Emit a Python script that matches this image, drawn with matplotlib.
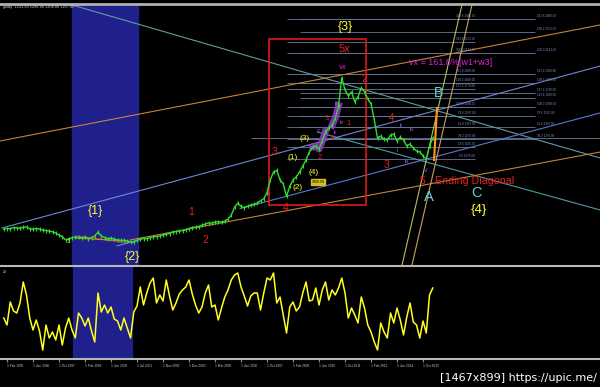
import numpy as np
import matplotlib
matplotlib.use("Agg")
import matplotlib.pyplot as plt
from matplotlib.patches import Rectangle

plt.rcParams['font.family'] = ['Liberation Sans', 'DejaVu Sans']

# bars counted from the "1 Feb 1995" label, one point every 2 bars
bar = np.arange(-2, 264, 2)

close = [370, 375, 372, 385, 382, 378, 388, 392, 372, 368,
         375, 370, 360, 355, 350, 342, 330, 310, 292, 262,
         265, 285, 290, 288, 280, 290, 275, 285, 300, 340,
         298, 285, 275, 278, 268, 262, 255, 258, 248, 240,
         238, 258, 265, 275, 272, 285, 290, 295, 300, 310,
         318, 325, 340, 345, 350, 355, 362, 375, 385, 390,
         395, 410, 420, 432, 430, 440, 445, 440, 450, 470,
         510, 590, 630, 600, 585, 600, 612, 620, 630, 655,
         675, 735, 865, 945, 960, 865, 825, 700, 800, 865,
         895, 945, 1005, 1065, 1145, 1195, 1205, 1175, 1255, 1355,
         1385, 1415, 1485, 1610, 1890, 1770, 1710, 1750, 1650, 1700,
         1790, 1750, 1680, 1630, 1470, 1285, 1305, 1275, 1265, 1315,
         1325, 1255, 1295, 1265, 1205, 1225, 1185, 1155, 1145, 1105,
         1075, 1205, 1285]

osc = [42, 35, 58, 49, 47, 57, 78, 65, 42, 30,
       40, 29, 10, 35, 22, 28, 20, 35, 15, 32,
       42, 30, 22, 47, 42, 34, 42, 29, 18, 67,
       48, 55, 47, 53, 41, 39, 30, 42, 32, 22,
       48, 54, 73, 55, 67, 77, 82, 57, 65, 59,
       80, 64, 50, 57, 66, 70, 73, 80, 66, 55,
       47, 53, 67, 75, 53, 55, 40, 52, 63, 70,
       80, 85, 87, 73, 64, 54, 64, 67, 67, 50,
       67, 82, 80, 87, 57, 63, 45, 27, 53, 58,
       49, 53, 67, 78, 59, 60, 72, 55, 70, 78,
       60, 70, 65, 72, 82, 67, 42, 52, 45, 37,
       63, 52, 35, 28, 18, 10, 37, 28, 22, 47,
       37, 52, 40, 25, 43, 57, 38, 35, 22, 39,
       27, 65, 72]

tick_bars = np.arange(0, 257, 16)
tick_labels = ['1 Feb 1995', '1 Jun 1996', '1 Oct 1997', '1 Feb 1999', '1 Jun 2000',
               '1 Jul 2001', '1 Nov 2002', '1 Dec 2003', '1 Mar 2005', '1 Jun 2006',
               '1 Oct 2007', '1 Feb 2009', '1 Jun 2010', '1 Oct 2011', '1 Feb 2013',
               '1 Jun 2014', '1 Oct 2015']

fib_left = [2483, 2252, 2141, 1930, 1839, 1779, 1598, 1507, 1397, 1276, 1195, 1075]
fib_left_ratio = ['423.6', '361.8', '300.0', '161.8', '138.2', '127.2',
                  '100.0', '78.6', '61.8', '38.2', '23.6', '0.0']
fib_right = [2483, 2352, 2141, 1930, 1839, 1739, 1689, 1598, 1507, 1397, 1276]
fib_right_ratio = ['261.8', '238.2', '200.0', '161.8', '138.2', '127.2',
                   '123.6', '100.0', '78.6', '61.8', '38.2']

# trend lines: bar0, price0, bar1, price1, colour
trend_lines = [
    (40, 2624, 365, 1085, '#5f9ea0'),
    (191, 1346, 365, 562, '#4f9aa0'),
    (-4.3, 1256, 365, 2423, '#c8823c'),
    (75.7, 260, 365, 1145, '#c8823c'),
    (-3.1, 381, 365, 2010, '#6f86d6'),
    (143.4, 576, 365, 1538, '#5a78d0'),
    (280.6, 2674, 243.1, 8, '#b8c060'),
    (286.8, 2674, 249.2, 8, '#c8a060'),
    (43.1, 300, 74.5, 230, '#e03030'),
    (41.8, 280, 74.5, 250, '#e08830'),
    (67.7, 200, 80.6, 260, '#6f86d6'),
]

fig = plt.figure(figsize=(6, 3.87), dpi=100, facecolor='black')
ax = fig.add_axes([0, 0.31266, 1, 0.677])
ax2 = fig.add_axes([0, 0.07235, 1, 0.24031])

for a in (ax, ax2):
    a.set_facecolor('black')
    a.set_xlim(-4.31, 364.9)
    for s in a.spines.values():
        s.set_visible(False)

ax.set_ylim(-1.6, 2634)
ax.set_xticks([])
ax.set_yticks([])
ax.spines['top'].set_visible(True)
ax.spines['top'].set_color('#b0b0b0')
ax.spines['top'].set_linewidth(2)

ax.axvspan(40, 80.6, color='#20208c', zorder=0)

for lv in fib_left:
    ax.hlines(lv, 172, 288, color='#66789a', lw=0.6, zorder=1)
for lv, r in zip(fib_left, fib_left_ratio):
    ax.text(288, lv + 8, f'{r} {lv:.2f}', color='#7f90c0', fontsize=2.2,
            ha='right', va='bottom', zorder=2)
for lv in fib_right:
    ax.hlines(lv, 180, 325, color='#66789a', lw=0.6, zorder=1)
for lv, r in zip(fib_right, fib_right_ratio):
    ax.text(326, lv + 8, f'{r} {lv:.2f}', color='#7f90c0', fontsize=2.2,
            ha='left', va='bottom', zorder=2)
ax.hlines(close[-1], 150, 365, color='#66789a', lw=0.6, zorder=1)

for b0, p0, b1, p1, c in trend_lines:
    ax.plot([b0, b1], [p0, p1], color=c, lw=0.8, zorder=1.5)

ax.add_patch(Rectangle((161.2, 612), 220.9 - 161.2, 2282 - 612, fill=False,
                       ec='#e01818', lw=1.2, zorder=2))

ax.plot(bar[95:100], close[95:100], color='#9933cc', lw=5, alpha=0.85, zorder=2.5)
ax.plot(bar[101:104], close[101:104], color='#9933cc', lw=5, alpha=0.85, zorder=2.5)

ax.plot(bar, close, color='#2fdc2f', lw=1.0, marker='|', ms=3, mew=0.8, zorder=3)

# orange projection leg
ax.plot([262.8, 264.6], [1065, 1588], color='#ff9a1a', lw=1.5, zorder=3.5)

red = '#e82020'
yel = '#ffff33'
cyan = '#66d0d0'
mag = '#dd22dd'
pur = '#b040e0'
labels = [
    (208, 2403, '{3}', yel, 9), (207.4, 2181, '5x', red, 8),
    (206.8, 2000, 'vx', mag, 5.5), (219.7, 1880, '2', red, 7.5),
    (265.8, 1739, 'B', cyan, 10), (236.3, 1487, '4', red, 7),
    (233.8, 1015, '3', red, 7.5), (257.8, 964, 'v', pur, 5),
    (255.4, 854, '5', red, 7.5), (259.7, 693, 'A', cyan, 10.5),
    (288.6, 733, 'C', cyan, 10.5), (290.5, 562, '{4}', yel, 9.5),
    (164.9, 1145, '3', red, 7.5), (176, 1085, '(1)', yel, 6),
    (183.4, 1286, '(3)', yel, 6), (179.1, 793, '(2)', yel, 6),
    (188.9, 934, '(4)', yel, 6), (171.7, 582, '4', red, 7.5),
    (113.2, 542, '1', red, 7.5), (121.8, 260, '2', red, 7.5),
    (54.2, 552, '{1}', yel, 9), (76.9, 89, '{2}', yel, 9),
    (37.5, 240, '1', '#ccee44', 5),
    (203.1, 1638, 'iii', pur, 4.5), (206.2, 1437, 'iv', pur, 4.5),
    (210.5, 1427, '1', red, 5.5), (192, 1357, 'v', pur, 4.5),
    (197, 1487, '3', red, 5.5), (192.6, 1085, '2', red, 5.5),
    (200, 1286, '4', red, 5.5), (201.8, 1346, 'ii', pur, 4.5),
    (242.5, 1407, 'ii', pur, 4.5), (249.2, 1367, 'iv', pur, 4.5),
    (240, 1165, 'i', pur, 4.5), (246.2, 1045, 'iii', pur, 4.5),
]
for b, p, t, c, s in labels:
    ax.text(b, p, t, color=c, fontsize=s, ha='center', va='center', zorder=5)

ax.text(247.4, 2041, 'vx = 161.8%[w1+w3]', color=mag, fontsize=6.5,
        ha='left', va='center', zorder=5)
ax.text(263.4, 854, 'Ending Diagonal', color=red, fontsize=7.7,
        ha='left', va='center', zorder=5)
ax.text(191.4, 843, '1000.00', color='black', fontsize=2.6, ha='center', va='center',
        zorder=5, bbox=dict(fc='#d4c020', ec='#d4c020', pad=0.4))

# oscillator panel
ax2.set_ylim(1, 94)
ax2.axvspan(40.6, 76.9, color='#20208c', zorder=0)
ax2.plot(bar, osc, color='#ffff22', lw=1.1, zorder=3)
for side in ('top', 'bottom'):
    ax2.spines[side].set_visible(True)
    ax2.spines[side].set_color('#b8b8b8')
    ax2.spines[side].set_linewidth(1.5)
ax2.set_yticks([])
ax2.set_xticks(tick_bars)
ax2.set_xticklabels(tick_labels)
ax2.tick_params(axis='x', length=2, color='#909090', labelsize=2.3,
                labelcolor='#c8c8c8', pad=1.5)
plt.setp(ax2.get_xticklabels(), ha='left')
ax2.text(0.005, 0.96, '28', transform=ax2.transAxes, color='#c8c8c8',
         fontsize=2.5, ha='left', va='top')

fig.text(0.005, 1 - 7 / 387, 'goldy  1231.90 1296.60 1208.80 1257.80',
         color='#d0d0d0', fontsize=2.8, ha='left', va='center')
fig.text(0.995, 9 / 387, '[1467x899] https://upic.me/', color='white',
         fontsize=8, ha='right', va='center', family='DejaVu Sans')

fig.savefig('out.png', dpi=100, facecolor='black')
